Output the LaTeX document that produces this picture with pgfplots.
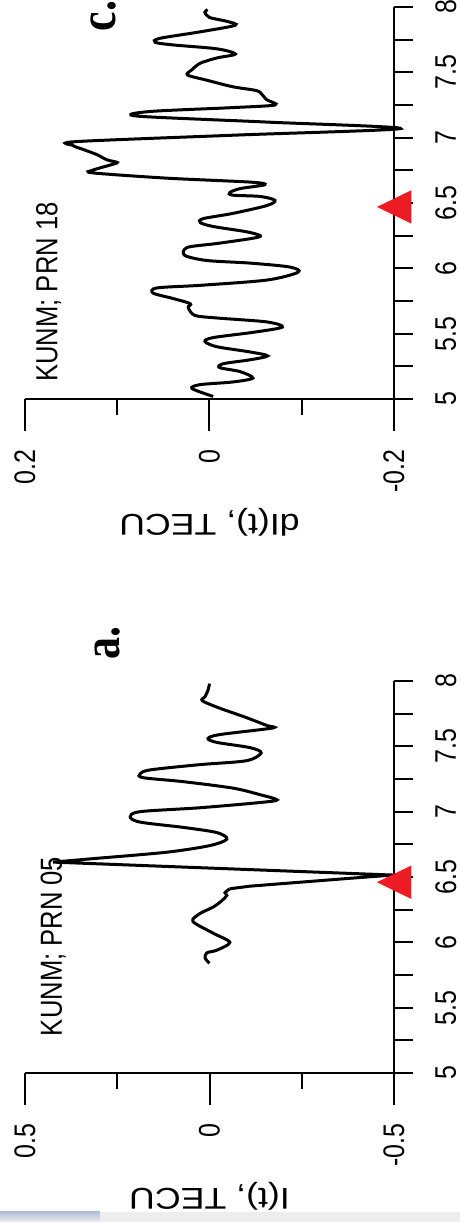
\documentclass[border=0pt]{standalone}
\usepackage{pgfplots}
\pgfplotsset{compat=1.18}
\usepackage{fontspec}
\setmainfont{Liberation Sans}
\newfontfamily\serifb{Liberation Serif}
\newcommand{\vs}[1]{\scalebox{1}[1.19]{#1}}
\definecolor{trired}{RGB}{237,28,36}
\pgfplotsset{
  common/.style={
    scale only axis, width=196pt, height=184.5pt, anchor=south west,
    xmin=5, xmax=8, enlargelimits=false, clip=false,
    axis lines*=left, axis line style={line width=1pt},
    xtick={5,5.5,...,8}, minor xtick={5.25,5.75,...,7.75},
    xticklabels={\vs{5},\vs{5.5},\vs{6},\vs{6.5},\vs{7},\vs{7.5},\vs{8}},
    tick align=outside, tick style={line width=1pt, black},
    major tick length=16pt, minor tick length=8pt,
    xtick style={/pgfplots/major tick length=9.5pt,/pgfplots/minor tick length=9.5pt},
    ticklabel style={font=\fontsize{12.5}{12.5}\selectfont, inner sep=0pt},
    xticklabel style={anchor=north},
    yticklabel style={anchor=east},
    xticklabel shift=4.5pt, yticklabel shift=9pt,
    ylabel style={at={(axis description cs:-0.3138,0.5)}, anchor=center, font=\fontsize{15}{15}\selectfont, inner sep=0pt},
  },
  curve/.style={black, line width=1.5pt, smooth, no marks},
  tri/.style={only marks, mark=triangle*, mark size=9.25pt, color=trired, mark options={yscale=1.19, fill=trired, draw=trired}},
}
\begin{document}
\begin{tikzpicture}[rotate=90, transform shape]
\useasboundingbox (0,0) rectangle (611pt,230pt);
\fill[gray!14] (0,0) rectangle (5pt,180pt);
\shade[top color={rgb,255:red,178;green,192;blue,220}, bottom color=gray!14] (0,180pt) rectangle (5pt,230pt);
\begin{axis}[common, at={(74.5pt,33pt)},
  ymin=-0.5, ymax=0.5, ytick={-0.5,0,0.5}, minor ytick={-0.25,0.25},
  yticklabels={\vs{-0.5},\vs{0},\vs{0.5}},
  ylabel={\scalebox{1.19}[1]{I(t), TECU}}]
\addplot[curve] coordinates {
(5.84,0.000) (5.88,0.012) (5.92,0.007) (5.94,-0.020) (6.00,-0.055) (6.07,-0.010)
(6.16,0.045) (6.22,0.026) (6.27,-0.010) (6.32,-0.034) (6.36,-0.047) (6.38,-0.042) (6.41,-0.055)};
\addplot[black, line width=1.5pt, no marks] coordinates {
(6.41,-0.055) (6.43,-0.110) (6.46,-0.245) (6.49,-0.380) (6.515,-0.497) (6.614,0.424) (6.645,0.297)};
\addplot[curve] coordinates {
(6.645,0.297) (6.69,0.115) (6.74,0.000) (6.79,-0.047) (6.84,-0.020) (6.88,0.072)
(6.92,0.188) (6.96,0.215) (7.00,0.188) (7.03,0.026) (7.07,-0.137) (7.09,-0.183)
(7.13,-0.137) (7.18,-0.064) (7.23,0.072) (7.26,0.180) (7.29,0.188) (7.32,0.160)
(7.36,0.026) (7.39,-0.100) (7.45,-0.140) (7.49,-0.110) (7.53,-0.020) (7.56,0.004)
(7.59,-0.028) (7.64,-0.170) (7.66,-0.155) (7.72,-0.100) (7.74,-0.080) (7.80,-0.020)
(7.85,0.020) (7.88,0.012) (7.93,0.004) (7.98,0.000)};
\addplot[tri] coordinates {(6.46,-0.516)};
\node[anchor=base west, inner sep=0pt, font=\fontsize{12.8}{12.8}\selectfont] at (axis cs:5.28,0.40) {\vs{KUNM; PRN 05}};
\node[anchor=base west, inner sep=0pt, font=\serifb\bfseries\fontsize{22}{22}\selectfont] at (axis cs:8.16,0.243) {\vs{a.}};
\end{axis}
\begin{axis}[common, at={(411.5pt,33pt)},
  ymin=-0.2, ymax=0.2, ytick={-0.2,0,0.2}, minor ytick={-0.1,0.1},
  yticklabels={\vs{-0.2},\vs{0},\vs{0.2}},
  ylabel={\scalebox{1.19}[1]{dI(t), TECU}}]
\addplot[curve] coordinates {
(5.02,-0.004) (5.08,0.019) (5.11,0.010) (5.13,-0.025) (5.16,-0.047) (5.21,-0.033)
(5.24,-0.011) (5.27,-0.015) (5.30,-0.044) (5.33,-0.063) (5.36,-0.044) (5.40,-0.008)
(5.44,0.005) (5.47,-0.004) (5.51,-0.047) (5.55,-0.079) (5.59,-0.062) (5.62,-0.008)
(5.64,0.016) (5.70,0.023) (5.73,0.021) (5.77,0.040) (5.81,0.061) (5.85,0.057)
(5.87,0.010) (5.91,-0.062) (5.97,-0.096) (6.01,-0.087) (6.04,-0.044) (6.06,0.003)
(6.10,0.027) (6.16,0.024) (6.19,-0.008) (6.23,-0.047) (6.25,-0.055) (6.28,-0.040)
(6.32,-0.004) (6.35,0.010) (6.38,0.007) (6.42,-0.025) (6.48,-0.062) (6.52,-0.071)
(6.55,-0.055) (6.56,-0.025) (6.58,-0.022) (6.61,-0.033) (6.64,-0.060) (6.66,-0.044)
(6.69,0.046) (6.73,0.126) (6.75,0.127) (6.79,0.108) (6.81,0.100) (6.83,0.111)
(6.87,0.122) (6.91,0.137) (6.94,0.148) (6.97,0.144) (7.02,-0.030) (7.07,-0.207)
(7.12,-0.060) (7.165,0.078) (7.20,0.065) (7.23,-0.025) (7.25,-0.071) (7.29,-0.062)
(7.33,-0.057) (7.36,-0.051) (7.39,-0.025) (7.44,0.003) (7.48,0.024) (7.52,0.019)
(7.57,0.010) (7.61,-0.008) (7.64,-0.028) (7.68,-0.008) (7.71,0.040) (7.73,0.059)
(7.76,0.054) (7.81,0.010) (7.86,-0.028) (7.89,-0.019) (7.92,0.000) (7.96,0.005) (7.98,0.002)};
\addplot[tri] coordinates {(6.47,-0.2065)};
\node[anchor=base west, inner sep=0pt, font=\fontsize{12.8}{12.8}\selectfont] at (axis cs:5.13,0.165) {\vs{KUNM; PRN 18}};
\node[anchor=base west, inner sep=0pt, font=\serifb\bfseries\fontsize{22}{22}\selectfont] at (axis cs:7.81,0.102) {\vs{c.}};
\end{axis}
\end{tikzpicture}
\end{document}
